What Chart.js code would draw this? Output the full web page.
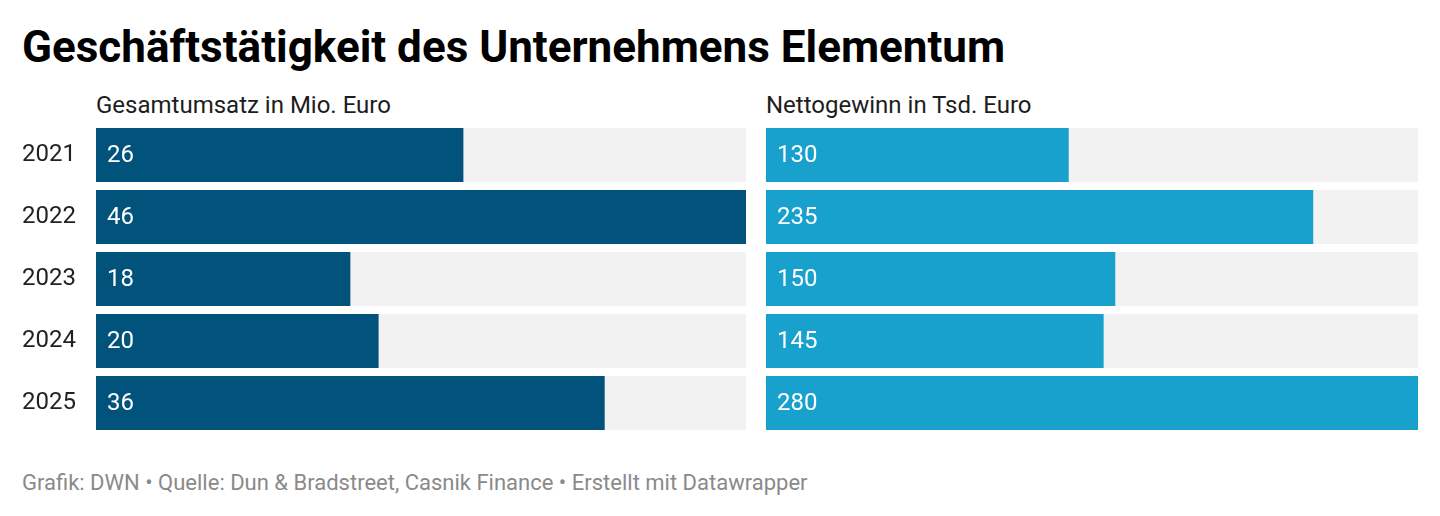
<!DOCTYPE html>
<html lang="de">
<head>
<meta charset="utf-8">
<script src="https://cdn.jsdelivr.net/npm/chart.js@4"></script>
<style>
  html, body { margin: 0; padding: 0; background: #fff; }
  body { width: 1440px; height: 516px; position: relative; overflow: hidden; font-family: Roboto, "Noto Sans", sans-serif; }
  .t { position: absolute; white-space: nowrap; line-height: 1; }
  #title { left: 22px; top: 25px; font-size: 44px; font-weight: 700; color: #000; }
  .sub { top: 93px; font-size: 24px; color: #1d1d1d; }
  #foot { left: 22px; top: 472px; font-size: 22px; color: #8a8a8a; }
  canvas { position: absolute; }
</style>
</head>
<body>
<div class="t" id="title">Geschäftstätigkeit des Unternehmens Elementum</div>
<div class="t sub" style="left:96px">Gesamtumsatz in Mio. Euro</div>
<div class="t sub" style="left:766px">Nettogewinn in Tsd. Euro</div>
<div class="t" id="foot">Grafik: DWN • Quelle: Dun &amp; Bradstreet, Casnik Finance • Erstellt mit Datawrapper</div>
<canvas id="c1" width="724" height="310" style="left:22px;top:124px;width:724px;height:310px"></canvas>
<canvas id="c2" width="652" height="310" style="left:766px;top:124px;width:652px;height:310px"></canvas>
<script>
const years = ["2021", "2022", "2023", "2024", "2025"];
const umsatz = [26, 46, 18, 20, 36];
const gewinn = [130, 235, 150, 145, 280];
const umsatzMax = 46;
const gewinnMax = 280;

const valueLabels = {
  id: 'valueLabels',
  afterDatasetsDraw(chart) {
    const ctx = chart.ctx;
    const meta = chart.getDatasetMeta(0);
    const data = chart.data.datasets[0].data;
    ctx.save();
    ctx.fillStyle = '#ffffff';
    ctx.font = '24px Roboto';
    ctx.textBaseline = 'middle';
    ctx.textAlign = 'left';
    meta.data.forEach((bar, i) => {
      ctx.fillText(String(data[i]), bar.base + 11, bar.y + 1);
    });
    ctx.restore();
  }
};

function makeChart(id, values, max, color, showYears) {
  return new Chart(document.getElementById(id), {
    type: 'bar',
    data: {
      labels: years,
      datasets: [
        { data: values, backgroundColor: color, grouped: false, categoryPercentage: 54/62, barPercentage: 1, borderWidth: 0 },
        { data: years.map(() => max), backgroundColor: '#f2f2f2', grouped: false, categoryPercentage: 54/62, barPercentage: 1, borderWidth: 0 }
      ]
    },
    options: {
      indexAxis: 'y',
      responsive: false,
      animation: false,
      devicePixelRatio: 1,
      layout: { padding: 0 },
      plugins: { legend: { display: false }, tooltip: { enabled: false }, title: { display: false } },
      scales: {
        x: { display: false, min: 0, max: max },
        y: {
          display: showYears,
          grid: { display: false },
          border: { display: false },
          ticks: { color: '#222', font: { family: 'Roboto', size: 24 }, crossAlign: 'far', padding: 0 },
          afterFit(scale) {
            scale.width = showYears ? 74 : 0;
            scale.paddingTop = 0; scale.paddingBottom = 0;
          }
        }
      }
    },
    plugins: [valueLabels]
  });
}

makeChart('c1', umsatz, umsatzMax, '#01537b', true);
makeChart('c2', gewinn, gewinnMax, '#18a1cd', false);
</script>
</body>
</html>
